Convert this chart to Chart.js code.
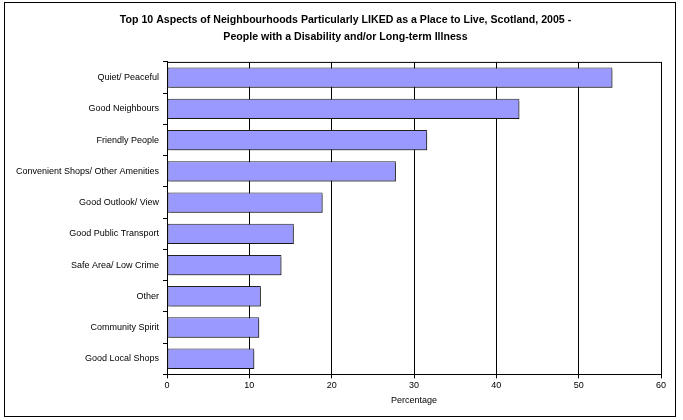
<!DOCTYPE html>
<html>
<head>
<meta charset="utf-8">
<script src="https://cdn.jsdelivr.net/npm/chart.js@4/dist/chart.umd.min.js"></script>
<style>
  html, body { margin: 0; padding: 0; background: #fff; }
  #wrap { width: 683px; height: 420px; }
</style>
</head>
<body>
<div id="wrap"><canvas id="myChart" width="683" height="420"></canvas></div>
<script>
const aspects = [
  'Quiet/ Peaceful',
  'Good Neighbours',
  'Friendly People',
  'Convenient Shops/ Other Amenities',
  'Good Outlook/ View',
  'Good Public Transport',
  'Safe Area/ Low Crime',
  'Other',
  'Community Spirit',
  'Good Local Shops'
];
const percentages = [54.1, 42.8, 31.6, 27.8, 18.9, 15.4, 13.9, 11.4, 11.2, 10.6];
const titleLines = [
  'Top 10 Aspects of Neighbourhoods Particularly LIKED as a Place to Live, Scotland, 2005 -',
  'People with a Disability and/or Long-term Illness'
];

Chart.defaults.font.family = "'Liberation Sans', Arial, sans-serif";
Chart.defaults.color = '#000000';

// outer frame + top/right edge of the plot area
const frame = {
  id: 'frame',
  afterLayout(chart) {
    // Excel centred the title over the whole frame, not the padded box
    chart.titleBlock.left += 13;
    chart.titleBlock.right += 13;
  },
  afterDraw(chart) {
    const ctx = chart.ctx;
    const a = chart.chartArea;
    ctx.save();
    ctx.strokeStyle = '#000';
    ctx.lineWidth = 1;
    ctx.strokeRect(4.5, 2.5, 671, 414);
    ctx.beginPath();
    ctx.moveTo(a.left, a.top + 0.5);
    ctx.lineTo(a.right, a.top + 0.5);
    ctx.stroke();
    ctx.restore();
  }
};

// grey drop shadow behind the bars, like the old Excel look
const barShadow = {
  id: 'barShadow',
  beforeDatasetsDraw(chart) {
    const ctx = chart.ctx;
    ctx.save();
    ctx.shadowColor = 'rgba(0,0,0,0.35)';
    ctx.shadowOffsetX = 2;
    ctx.shadowOffsetY = 2;
    ctx.shadowBlur = 0;
  },
  afterDatasetsDraw(chart) {
    chart.ctx.restore();
  }
};

const data = {
  labels: aspects,
  datasets: [{
    data: percentages,
    backgroundColor: '#9999FF',
    borderColor: '#222222',
    borderWidth: 1,
    borderSkipped: false,
    barPercentage: 0.65,
    categoryPercentage: 1.0
  }]
};

const config = {
  type: 'bar',
  data: data,
  options: {
    indexAxis: 'y',
    responsive: false,
    animation: false,
    layout: { padding: { left: 4, right: 22, top: 0, bottom: 14 } },
    plugins: {
      legend: { display: false },
      tooltip: { enabled: false },
      title: {
        display: true,
        text: titleLines,
        font: { size: 10.6, weight: 'bold', lineHeight: 1.6 },
        padding: { top: 12, bottom: 16 }
      }
    },
    scales: {
      x: {
        min: 0,
        max: 60,
        ticks: { stepSize: 10, font: { size: 9 }, padding: 2 },
        grid: { color: '#000', lineWidth: 1, tickLength: 4 },
        border: { color: '#000', width: 1 },
        title: { display: true, text: 'Percentage', font: { size: 9 }, padding: { top: 2, bottom: 0 } }
      },
      y: {
        afterFit(scale) { scale.width = 163; },
        ticks: { font: { size: 9 }, padding: 4 },
        grid: { offset: true, drawOnChartArea: false, color: '#000', tickLength: 4 },
        border: { color: '#000', width: 1 }
      }
    }
  },
  plugins: [frame, barShadow]
};

const myChart = new Chart(document.getElementById('myChart'), config);
</script>
</body>
</html>
